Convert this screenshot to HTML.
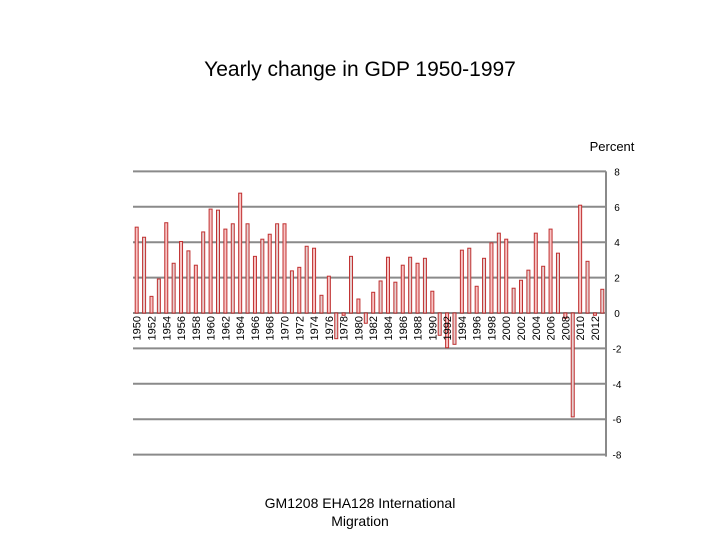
<!DOCTYPE html>
<html><head><meta charset="utf-8"><style>
body{margin:0;background:#fff;width:720px;height:540px;overflow:hidden;font-family:"Liberation Sans",sans-serif}
</style></head><body>
<svg width="720" height="540" xmlns="http://www.w3.org/2000/svg">
<text x="360" y="76" text-anchor="middle" font-size="21" font-family="Liberation Sans, sans-serif">Yearly change in GDP 1950-1997</text>
<text x="612" y="151" text-anchor="middle" font-size="13" font-family="Liberation Sans, sans-serif">Percent</text>
<g id="grid"></g><g id="bars"></g><g id="xlabels"></g><g id="ylabels"></g>
<text x="360" y="508" text-anchor="middle" font-size="14" font-family="Liberation Sans, sans-serif">GM1208 EHA128   International</text>
<text x="360" y="526" text-anchor="middle" font-size="14" font-family="Liberation Sans, sans-serif">Migration</text>
</svg>
<script>
const years=[];for(let y=1950;y<=2013;y++)years.push(y);
const values=[4.85,4.28,0.94,1.92,5.1,2.81,4.04,3.51,2.7,4.58,5.87,5.81,4.74,5.04,6.77,5.04,3.2,4.17,4.45,5.04,5.04,2.38,2.58,3.77,3.66,1.0,2.08,-1.45,-0.13,3.2,0.79,-0.58,1.17,1.81,3.15,1.74,2.7,3.15,2.81,3.09,1.23,-1.26,-1.96,-1.77,3.55,3.66,1.51,3.09,3.96,4.51,4.17,1.4,1.85,2.42,4.51,2.64,4.74,3.38,-0.3,-5.87,6.09,2.92,-0.13,1.34];
const ticks=[8,6,4,2,0,-2,-4,-6,-8];
const NS="http://www.w3.org/2000/svg";
const L=133,R=606,Y0=313,PU=17.7;
const yS=v=>Y0-v*PU;
const step=(R-L)/years.length;
const xS=i=>L+step*(i+0.5);
function mk(t,a,p){const e=document.createElementNS(NS,t);for(const k in a)e.setAttribute(k,a[k]);p.appendChild(e);return e;}
const g=document.getElementById('grid'),b=document.getElementById('bars'),xl=document.getElementById('xlabels'),yl=document.getElementById('ylabels');
ticks.forEach(t=>{
 const l=mk('line',{x1:L,x2:R,y1:yS(t),y2:yS(t),stroke:'#8a8a8a','stroke-width':2},g);
 
 
 const tx=mk('text',{x:617,y:yS(t)+4,'font-size':10,'text-anchor':'middle','font-family':'Liberation Sans, sans-serif'},yl);
 tx.textContent=t;
 
 
});
const ax=mk('line',{x1:R,x2:R,y1:yS(8),y2:yS(-8)+2,stroke:'#8a8a8a','stroke-width':2},g);


values.forEach((v,i)=>{
 const x=xS(i)-1.5,y=Math.min(yS(v),Y0),h=Math.max(Math.abs(v)*PU,1);
 const r=mk('rect',{x:x,y:y,width:3,height:h,fill:i%2?'#e6d0d0':'#f8c4c4',stroke:'#c03030','stroke-width':1},b);
 
 
 if(i%2===0){
  const t=mk('text',{transform:`translate(${xS(i)+4},316) rotate(-90)`,'font-size':11,'text-anchor':'end','font-family':'Liberation Sans, sans-serif'},xl);
  t.textContent=years[i];
  
  
 }
});
</script>
</body></html>
